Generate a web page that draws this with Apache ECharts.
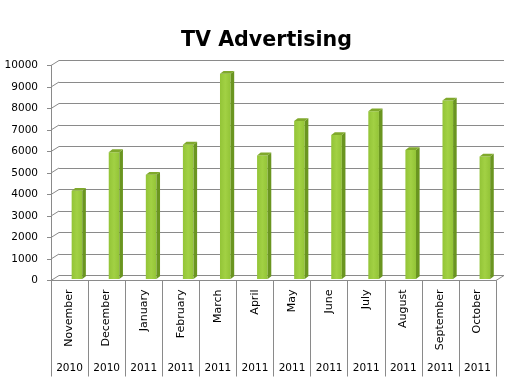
<!DOCTYPE html>
<html><head><meta charset="utf-8">
<script src="https://cdn.jsdelivr.net/npm/echarts@6/dist/echarts.min.js"></script>
<style>html,body{margin:0;padding:0;background:#fff}#c{width:523px;height:385px}</style>
</head><body><div id="c"></div>
<script>
const months = ['November','December','January','February','March','April','May','June','July','August','September','October'];
const years = ['2010','2010','2011','2011','2011','2011','2011','2011','2011','2011','2011','2011'];
const values = [4100, 5900, 4850, 6250, 9550, 5750, 7350, 6700, 7800, 6000, 8300, 5700];
const yTicks = [0,1000,2000,3000,4000,5000,6000,7000,8000,9000,10000];

const LINE = '#8a8a8a';
const FONT = 'DejaVu Sans';
const DX = 8, DY = -5;

const chart = echarts.init(document.getElementById('c'), null, {renderer:'canvas'});
chart.setOption({
  animation: false,
  backgroundColor: '#fff',
  title: {text:'TV Advertising', left: 181, top: 30, padding: 0,
    textStyle:{fontFamily: FONT, fontWeight:'bold', fontSize:20.6, color:'#000'}},
  grid: [
    {left: 51, right: 27, top: 65.5, bottom: 104.5, containLabel:false},
    {left: 51+DX, right: 27-DX, top: 65.5+DY, bottom: 104.5-DY, containLabel:false}
  ],
  xAxis: [
    {type:'category', gridIndex:0, data: months, position:'bottom',
      axisLine:{show:true, lineStyle:{color:LINE}},
      axisTick:{show:true, length:96, interval:0, lineStyle:{color:LINE}},
      axisLabel:{interval:0, rotate:90, margin:9, fontFamily:FONT, fontSize:11, color:'#000'},
      splitLine:{show:false}},
    {type:'category', gridIndex:0, data: years, position:'bottom',
      axisLine:{show:false}, axisTick:{show:false},
      axisLabel:{interval:0, margin:82, fontFamily:FONT, fontSize:10.5, color:'#000'},
      splitLine:{show:false}},
    {type:'value', gridIndex:1, show:false, min:0, max:1}
  ],
  yAxis: [
    {type:'value', gridIndex:0, min:0, max:10000, interval:1000,
      axisLine:{show:true, lineStyle:{color:LINE}},
      axisTick:{show:true, length:4, lineStyle:{color:LINE}},
      axisLabel:{margin:13, fontFamily:FONT, fontSize:10.5, color:'#000',
        formatter: v => String(v)},
      splitLine:{show:false}},
    {type:'value', gridIndex:1, min:0, max:10000, interval:1000,
      axisLine:{show:false}, axisTick:{show:false}, axisLabel:{show:false},
      splitLine:{show:true, lineStyle:{color:LINE, width:1}}}
  ],
  series: [
    {type:'custom', xAxisIndex:0, yAxisIndex:0, z:1, silent:true,
      data: yTicks.map(v => [0, v]),
      renderItem: function(params, api){
        const v = api.value(1);
        const p = api.coord([0, v]);
        const cs = params.coordSys;
        const children = [{type:'line', shape:{x1:cs.x, y1:p[1], x2:cs.x+DX, y2:p[1]+DY},
          style:{stroke:LINE, lineWidth:1}}];
        if (v === 0) {
          children.push({type:'line', shape:{x1:cs.x+cs.width, y1:p[1], x2:cs.x+cs.width+DX, y2:p[1]+DY},
            style:{stroke:LINE, lineWidth:1}});
        }
        return {type:'group', children};
      }},
    {type:'custom', xAxisIndex:0, yAxisIndex:0, z:5, silent:true,
      data: values.map((v,i) => [i, v]),
      renderItem: function(params, api){
        const i = api.value(0), v = api.value(1);
        const base = api.coord([i, 0]);
        const top = api.coord([i, v]);
        const band = api.size([1, 0])[0];
        const w = band * 0.286;
        const cx = base[0] + band * 0.2;
        const x0 = cx - w/2, x1 = cx + w/2;
        const yb = base[1] - 1.5, yt = top[1] - 1.5;
        const dx = 3.6, dy = -2.8;
        return {type:'group', children:[
          {type:'rect', shape:{x:x0, y:yt, width:w, height:yb-yt},
            style:{fill:new echarts.graphic.LinearGradient(0,0,1,0,[
              {offset:0,color:'#93c437'},{offset:0.5,color:'#a2d144'},{offset:1,color:'#93c437'}])}},
          {type:'polygon', shape:{points:[[x1,yt],[x1+dx,yt+dy],[x1+dx,yb+dy],[x1,yb]]},
            style:{fill:'#6a9520'}},
          {type:'polygon', shape:{points:[[x0,yt],[x0+dx,yt+dy],[x1+dx,yt+dy],[x1,yt]]},
            style:{fill:'#80a92c'}}
        ]};
      }}
  ]
});
</script></body></html>
